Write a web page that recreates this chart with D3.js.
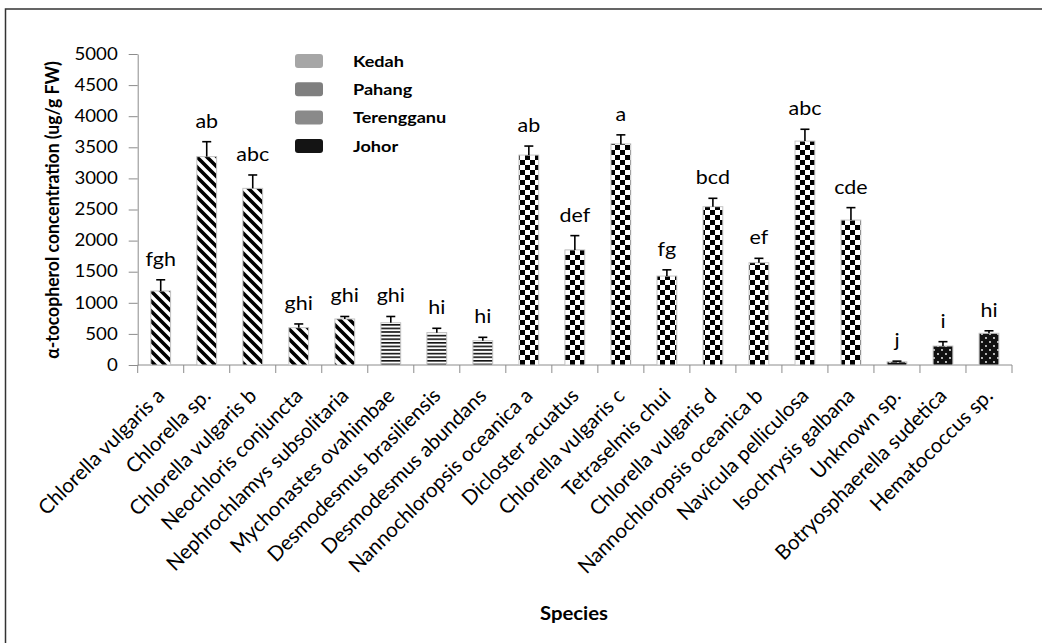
<!DOCTYPE html>
<html>
<head>
<meta charset="utf-8">
<script src="https://cdn.jsdelivr.net/npm/d3@7"></script>
<style>
  html, body { margin: 0; padding: 0; background: #fff; }
  svg { display: block; }
  text { font-family: Lato, "Open Sans", sans-serif; fill: #000; }
</style>
</head>
<body>
<svg id="chart" width="1042" height="643"></svg>
<script>
const species = ["Chlorella vulgaris a","Chlorella sp.","Chlorella vulgaris b","Neochloris conjuncta",
  "Nephrochlamys subsolitaria","Mychonastes ovahimbae","Desmodesmus brasiliensis","Desmodesmus abundans",
  "Nannochloropsis oceanica a","Dicloster acuatus","Chlorella vulgaris c","Tetraselmis chui",
  "Chlorella vulgaris d","Nannochloropsis oceanica b","Navicula pelliculosa","Isochrysis galbana",
  "Unknown sp.","Botryosphaerella sudetica","Hematococcus sp."];
const values = [1190,3350,2840,600,740,680,520,390,3375,1850,3555,1430,2545,1645,3600,2330,50,305,510];
const errors = [180,240,215,60,40,100,70,55,145,230,145,100,135,70,190,200,12,70,40];
const letters = ["fgh","ab","abc","ghi","ghi","ghi","hi","hi","ab","def","a","fg","bcd","ef","abc","cde","j","i","hi"];
const region = ["Kedah","Kedah","Kedah","Kedah","Kedah","Pahang","Pahang","Pahang",
  "Terengganu","Terengganu","Terengganu","Terengganu","Terengganu","Terengganu","Terengganu","Terengganu",
  "Johor","Johor","Johor"];
const regions = ["Kedah","Pahang","Terengganu","Johor"];
const legendColors = ["#a6a6a6","#7f7f7f","#8a8a8a","#141414"];
const yTicks = [0,500,1000,1500,2000,2500,3000,3500,4000,4500,5000];

const SX = 1.13; // horizontal text stretch of the original rendering
const svg = d3.select("#chart");

// outer frame
svg.append("rect").attr("x",5.5).attr("y",9).attr("width",1100).attr("height",700)
  .attr("fill","none").attr("stroke","#333").attr("stroke-width",1.5);

// patterns
const defs = svg.append("defs");
const pDiag = defs.append("pattern").attr("id","p-Kedah").attr("patternUnits","userSpaceOnUse")
  .attr("width",10).attr("height",10);
pDiag.append("rect").attr("width",10).attr("height",10).attr("fill","#fff");
pDiag.append("path").attr("d","M-2,-2 L12,12 M-7,3 L3,13 M7,-3 L13,3")
  .attr("stroke","#000").attr("stroke-width",3.6);

const pHor = defs.append("pattern").attr("id","p-Pahang").attr("patternUnits","userSpaceOnUse")
  .attr("width",4).attr("height",3.6);
pHor.append("rect").attr("width",4).attr("height",3.6).attr("fill","#fff");
pHor.append("rect").attr("y",0).attr("width",4).attr("height",1.6).attr("fill","#111");

const pChk = defs.append("pattern").attr("id","p-Terengganu").attr("patternUnits","userSpaceOnUse")
  .attr("width",10).attr("height",10);
pChk.append("rect").attr("width",10).attr("height",10).attr("fill","#fff");
pChk.append("rect").attr("x",0).attr("y",0).attr("width",5).attr("height",5).attr("fill","#000");
pChk.append("rect").attr("x",5).attr("y",5).attr("width",5).attr("height",5).attr("fill","#000");

const pDot = defs.append("pattern").attr("id","p-Johor").attr("patternUnits","userSpaceOnUse")
  .attr("width",8).attr("height",8);
pDot.append("rect").attr("width",8).attr("height",8).attr("fill","#111");
pDot.append("circle").attr("cx",2).attr("cy",2).attr("r",0.9).attr("fill","#fff");
pDot.append("circle").attr("cx",6).attr("cy",6).attr("r",0.9).attr("fill","#fff");

// scales
const x = d3.scaleBand().domain(species).range([137.7, 1012]).paddingInner(0.57).paddingOuter(0.285);
const y = d3.scaleLinear().domain([0,5000]).range([365,54]);

// y axis
const yAxis = svg.append("g").attr("transform","translate(137.7,0)")
  .call(d3.axisLeft(y).tickValues(yTicks).tickFormat(d3.format("d")).tickSize(9).tickPadding(11).tickSizeOuter(0));
yAxis.select(".domain").attr("stroke","#8c8c8c");
yAxis.selectAll(".tick line").attr("stroke","#8c8c8c");
yAxis.selectAll("text").attr("x",0).attr("transform",`translate(-20,0) scale(${SX},1)`)
  .style("font-size","16.5px").style("font-family","Lato, sans-serif").attr("fill","#000");

// x axis with ticks at category boundaries
const xBase = svg.append("g").attr("transform","translate(0,365)");
xBase.append("line").attr("x1",137.7).attr("x2",1012).attr("stroke","#8c8c8c");
const boundaries = d3.range(species.length + 1).map(i => 137.7 + i * (1012 - 137.7) / species.length);
xBase.selectAll("line.tk").data(boundaries).enter().append("line").attr("class","tk")
  .attr("x1",d=>d).attr("x2",d=>d).attr("y1",0).attr("y2",8).attr("stroke","#8c8c8c");
xBase.selectAll("text.lbl").data(species).enter().append("text").attr("class","lbl")
  .attr("transform", d => `translate(${x(d) + x.bandwidth()/2},${27}) rotate(-45)`)
  .attr("text-anchor","end").attr("dy","0.35em").style("font-size","20.5px").text(d=>d);

// bars
const idx = d3.range(species.length);
svg.append("g").selectAll("rect").data(idx).enter().append("rect")
  .attr("x", i => x(species[i])).attr("width", x.bandwidth())
  .attr("y", i => y(values[i])).attr("height", i => y(0) - y(values[i]))
  .attr("fill", i => `url(#p-${region[i]})`)
  .attr("stroke","#c4c4c4").attr("stroke-width",1);

// error bars (upper only)
const eb = svg.append("g").attr("stroke","#000").attr("stroke-width",1.6);
idx.forEach(i => {
  const cx = x(species[i]) + x.bandwidth()/2;
  eb.append("line").attr("x1",cx).attr("x2",cx).attr("y1",y(values[i])).attr("y2",y(values[i]+errors[i]));
  eb.append("line").attr("x1",cx-4.5).attr("x2",cx+4.5).attr("y1",y(values[i]+errors[i])).attr("y2",y(values[i]+errors[i]));
});

// letters
svg.append("g").selectAll("text").data(idx).enter().append("text")
  .attr("transform", i => `translate(${x(species[i]) + x.bandwidth()/2},${y(values[i]+errors[i]) - 14}) scale(${SX},1)`)
  .attr("text-anchor","middle").style("font-size","19px").text(i => letters[i]);

// legend
const lg = svg.append("g");
regions.forEach((r, k) => {
  const yy = 54 + k * 28.3;
  lg.append("rect").attr("x",295).attr("y",yy).attr("width",28).attr("height",14).attr("rx",3)
    .attr("fill",legendColors[k]);
  lg.append("text").attr("transform",`translate(353,${yy+7}) scale(${SX},1)`).attr("dy","0.35em")
    .style("font-size","16px").style("font-weight","bold").text(r);
});

// axis titles
svg.append("text").attr("transform",`translate(52,210) scale(${SX},1) rotate(-90)`).attr("text-anchor","middle")
  .attr("dy","0.35em").style("font-size","17.6px").style("font-weight","bold")
  .text("α-tocopherol concentration (ug/g FW)");
svg.append("text").attr("transform",`translate(574,614) scale(${SX},1)`).attr("text-anchor","middle").attr("dy","0.35em")
  .style("font-size","18px").style("font-weight","bold").text("Species");
</script>
</body>
</html>
